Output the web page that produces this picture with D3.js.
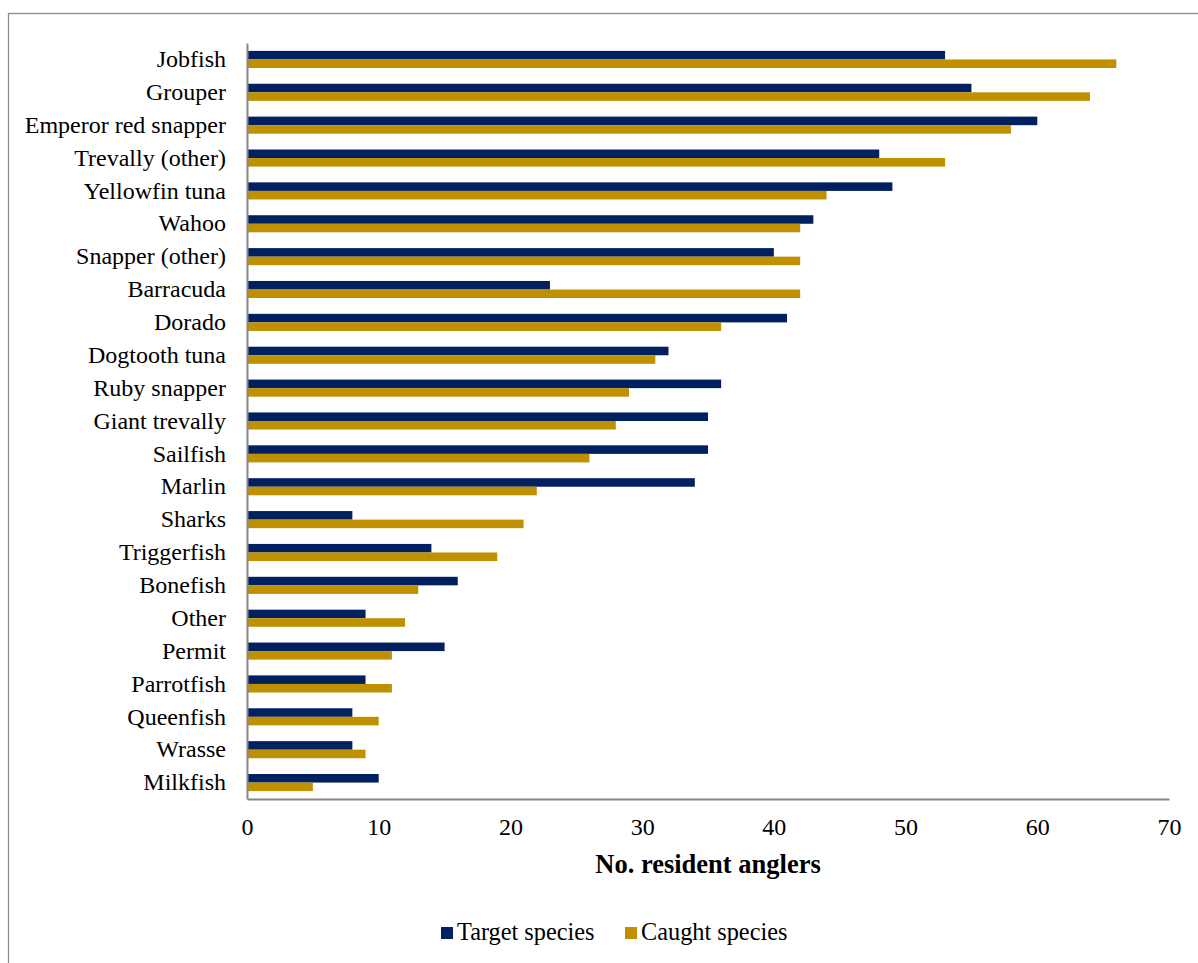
<!DOCTYPE html>
<html>
<head>
<meta charset="utf-8">
<script src="https://cdn.jsdelivr.net/npm/d3@7"></script>
<style>
  html, body { margin: 0; padding: 0; background: #fff; }
  svg { display: block; font-family: "Liberation Serif", "Times New Roman", serif; }
</style>
</head>
<body>
<svg id="chart" width="1198" height="963"></svg>
<script>
// Species, top to bottom
const categories = [
  "Jobfish", "Grouper", "Emperor red snapper", "Trevally (other)", "Yellowfin tuna",
  "Wahoo", "Snapper (other)", "Barracuda", "Dorado", "Dogtooth tuna",
  "Ruby snapper", "Giant trevally", "Sailfish", "Marlin", "Sharks",
  "Triggerfish", "Bonefish", "Other", "Permit", "Parrotfish",
  "Queenfish", "Wrasse", "Milkfish"
];
const targetSpecies = [53, 55, 60, 48, 49, 43, 40, 23, 41, 32, 36, 35, 35, 34, 8, 14, 16, 9, 15, 9, 8, 8, 10];
const caughtSpecies = [66, 64, 58, 53, 44, 42, 42, 42, 36, 31, 29, 28, 26, 22, 21, 19, 13, 12, 11, 11, 10, 9, 5];
const seriesNames = ["Target species", "Caught species"];
const seriesColors = ["#002060", "#BF9000"];
const xTicks = [0, 10, 20, 30, 40, 50, 60, 70];
const axisTitle = "No. resident anglers";

const rows = categories.map((c, i) => ({ name: c, values: [targetSpecies[i], caughtSpecies[i]] }));

const svg = d3.select("#chart");
const W = 1198, H = 963;
const m = { left: 247, right: 1169, top: 43, bottom: 799 };

// outer frame
svg.append("rect")
  .attr("x", 8.5).attr("y", 13.5)
  .attr("width", W + 20).attr("height", H + 20)
  .attr("fill", "none").attr("stroke", "#8c8c8c").attr("stroke-width", 1.3);

const x = d3.scaleLinear().domain([0, 70]).range([m.left, m.right]);
const y = d3.scaleBand().domain(categories).range([m.top, m.bottom])
  .paddingInner(0.48).paddingOuter(0.24);
const ySub = d3.scaleBand().domain([0, 1]).range([0, y.bandwidth()]);

// bars
const g = svg.append("g");
const groups = g.selectAll("g.cat").data(rows).join("g")
  .attr("class", "cat")
  .attr("transform", d => `translate(0,${y(d.name)})`);
groups.selectAll("rect").data(d => d.values).join("rect")
  .attr("x", x(0))
  .attr("y", (v, i) => ySub(i))
  .attr("width", v => x(v) - x(0))
  .attr("height", ySub.bandwidth())
  .attr("fill", (v, i) => seriesColors[i]);

// x axis
const xAxis = d3.axisBottom(x).tickValues(xTicks).tickSize(0).tickPadding(19);
const xg = svg.append("g").attr("transform", `translate(0,${m.bottom})`).call(xAxis);
xg.select(".domain").attr("stroke", "#878787").attr("stroke-width", 2);
xg.selectAll("text").attr("font-size", 24).attr("fill", "#000")
  .attr("font-family", "Liberation Serif, Times New Roman, serif");

// y axis
const yAxis = d3.axisLeft(y).tickSize(0).tickPadding(21);
const yg = svg.append("g").attr("transform", `translate(${m.left},0)`).call(yAxis);
yg.select(".domain").attr("stroke", "#878787").attr("stroke-width", 2);
yg.selectAll("text").attr("font-size", 24).attr("fill", "#000")
  .attr("font-family", "Liberation Serif, Times New Roman, serif");

// axis title
svg.append("text")
  .attr("x", (m.left + m.right) / 2).attr("y", 873)
  .attr("text-anchor", "middle")
  .attr("font-size", 26.5).attr("font-weight", "bold")
  .text(axisTitle);

// legend
const legendItems = [
  { name: seriesNames[0], color: seriesColors[0], x: 441 },
  { name: seriesNames[1], color: seriesColors[1], x: 625 }
];
const lg = svg.append("g");
legendItems.forEach(it => {
  lg.append("rect").attr("x", it.x).attr("y", 927).attr("width", 12).attr("height", 12).attr("fill", it.color);
  lg.append("text").attr("x", it.x + 16).attr("y", 940).attr("font-size", 24.3).text(it.name);
});
</script>
</body>
</html>
